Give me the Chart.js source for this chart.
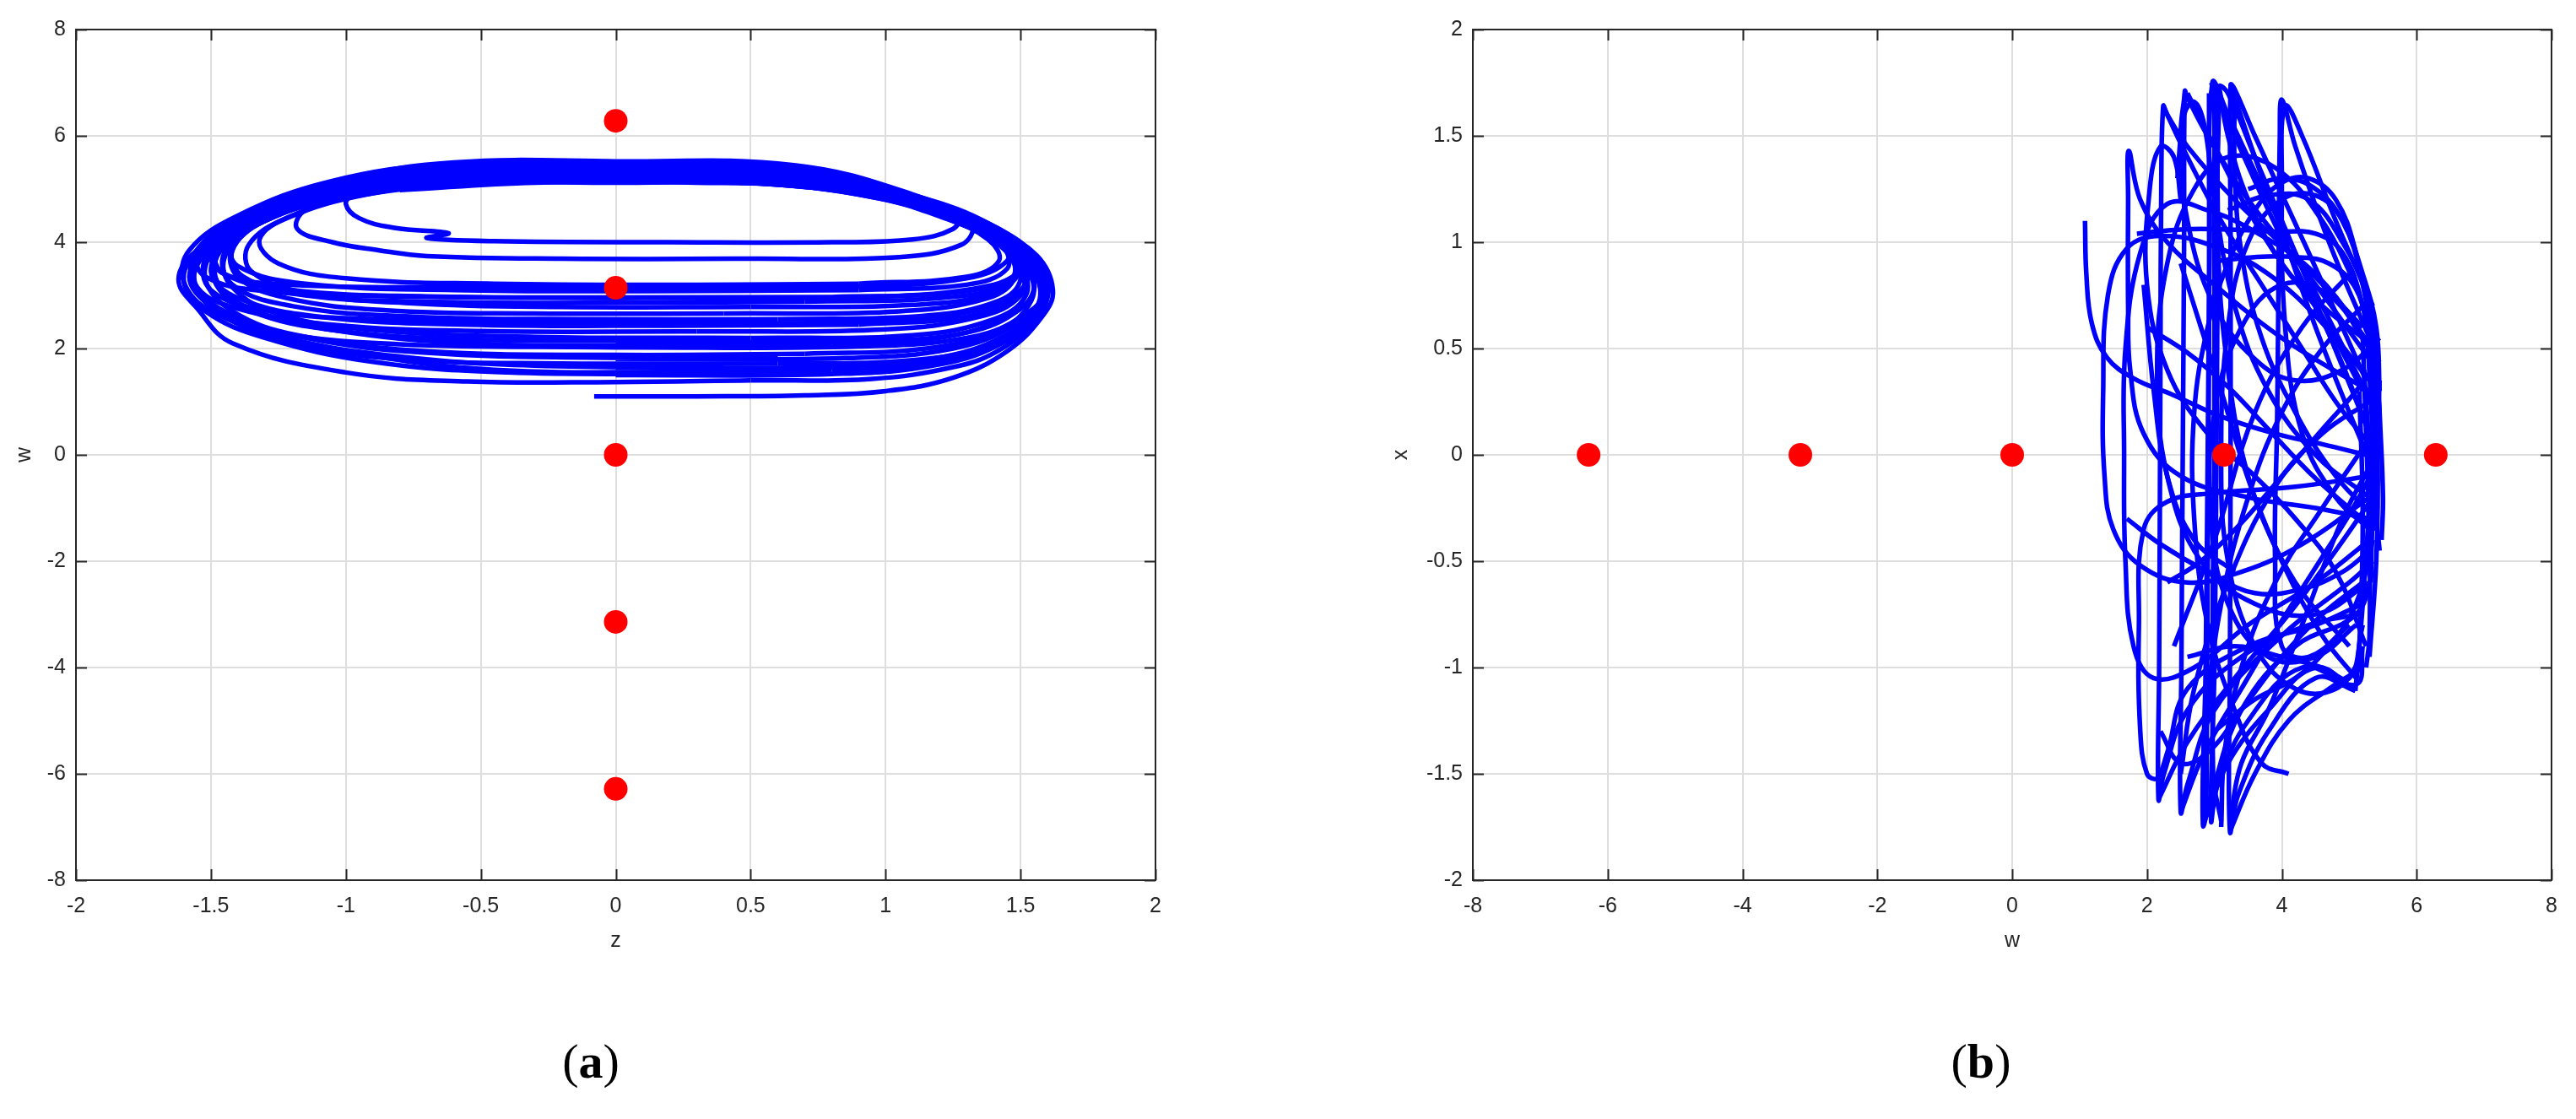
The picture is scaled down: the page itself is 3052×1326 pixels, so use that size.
<!DOCTYPE html>
<html>
<head>
<meta charset="utf-8">
<script src="https://cdn.jsdelivr.net/npm/chart.js"></script>
<style>
  html, body { margin: 0; padding: 0; background: #fff; }
  body { width: 3052px; height: 1326px; position: relative; overflow: hidden; }
  canvas { position: absolute; top: 0; }
  #chartA { left: 0; }
  #chartB { left: 1600px; }
  .cap { position: absolute; top: 1224px; font-family: "Liberation Serif", "DejaVu Serif", serif; font-size: 58px; color: #000; transform: translateX(-50%); }
</style>
</head>
<body>
<canvas id="chartA" width="1420" height="1160"></canvas>
<canvas id="chartB" width="1452" height="1160"></canvas>
<div class="cap" style="left:700px">(<b>a</b>)</div>
<div class="cap" style="left:2347px">(<b>b</b>)</div>
<script>
  // ---- panel (a): z on x axis, w on y axis ----
  const zTicks = [-2, -1.5, -1, -0.5, 0, 0.5, 1, 1.5, 2];
  const wTicksA = [-8, -6, -4, -2, 0, 2, 4, 6, 8];
  const eqZ = [0, 0, 0, 0, 0];
  const eqW = [6.283, 3.142, 0, -3.142, -6.283];

  // trajectory loops, each a list of [z, w]
  const bandLoops = [
    [[-0.08,1.1],[0.3,1.1],[0.7,1.12],[1.0,1.2],[1.25,1.45],[1.45,1.95],[1.58,2.6],[1.62,3.1],[1.56,3.75],[1.4,4.25],[1.12,4.85],[0.65,5.3],[0,5.45],[-0.6,5.45],[-1.0,5.15],[-1.33,4.45],[-1.55,3.85],[-1.62,3.3],[-1.55,2.75],[-1.42,2.1],[-1.0,1.55],[-0.55,1.38],[0,1.37],[0.5,1.4]],
    [[0.5,1.4],[0.95,1.43],[1.25,1.65],[1.41,1.94],[1.55,2.5],[1.6,3.05],[1.55,3.7],[1.4,4.2],[1.1,4.9],[0.66,5.45],[0,5.52],[-0.6,5.5],[-1.0,5.17],[-1.3,4.55],[-1.5,3.9],[-1.58,3.35],[-1.5,2.8],[-1.3,2.3],[-0.95,1.9],[-0.45,1.6],[0.2,1.56],[0.8,1.58]],
    [[0.8,1.58],[1.2,1.75],[1.45,2.2],[1.57,2.8],[1.58,3.3],[1.5,3.85],[1.3,4.4],[1.0,4.95],[0.6,5.35],[0,5.42],[-0.6,5.42],[-1.02,5.1],[-1.35,4.45],[-1.52,3.8],[-1.56,3.2],[-1.45,2.6],[-1.2,2.1],[-0.8,1.8],[-0.2,1.72],[0.6,1.72]],
    [[0.6,1.72],[1.1,1.78],[1.4,2.1],[1.55,2.7],[1.57,3.2],[1.5,3.8],[1.32,4.35],[1.05,4.9],[0.62,5.3],[0,5.38],[-0.6,5.36],[-1.0,5.05],[-1.3,4.5],[-1.48,3.9],[-1.52,3.3],[-1.42,2.7],[-1.18,2.25],[-0.7,1.95],[0,1.88],[0.7,1.9]],
    [[0.7,1.9],[1.15,2.0],[1.42,2.35],[1.54,2.9],[1.53,3.45],[1.42,4.0],[1.2,4.55],[0.88,5.0],[0.45,5.25],[0,5.3],[-0.6,5.3],[-1.02,5.0],[-1.32,4.4],[-1.47,3.8],[-1.47,3.2],[-1.33,2.7],[-1.05,2.35],[-0.55,2.1],[0.1,2.05],[0.8,2.07]],
    [[0.8,2.07],[1.2,2.2],[1.45,2.6],[1.55,3.1],[1.5,3.7],[1.34,4.25],[1.08,4.8],[0.65,5.2],[0,5.28],[-0.62,5.25],[-1.05,4.9],[-1.35,4.3],[-1.45,3.7],[-1.42,3.15],[-1.25,2.65],[-0.9,2.35],[-0.3,2.22],[0.5,2.2]],
    [[0.5,2.2],[1.1,2.25],[1.4,2.55],[1.52,3.0],[1.5,3.55],[1.38,4.1],[1.15,4.62],[0.78,5.1],[0.35,5.35],[0,5.4],[-0.6,5.38],[-1.05,5.05],[-1.38,4.4],[-1.55,3.75],[-1.55,3.15],[-1.4,2.75],[-1.05,2.45],[-0.5,2.33],[0.3,2.32]],
    [[0.3,2.32],[1.0,2.36],[1.35,2.6],[1.5,3.0],[1.5,3.5],[1.4,4.05],[1.18,4.6],[0.8,5.05],[0.3,5.3],[-0.3,5.32],[-0.8,5.15],[-1.18,4.7],[-1.42,4.05],[-1.5,3.45],[-1.4,2.95],[-1.1,2.6],[-0.55,2.45],[0.2,2.43],[0.9,2.45]],
    [[0.9,2.45],[1.3,2.6],[1.5,3.0],[1.52,3.5],[1.42,4.05],[1.2,4.55],[0.85,5.0],[0.4,5.2],[0,5.22],[-0.5,5.2],[-0.95,4.95],[-1.3,4.4],[-1.45,3.8],[-1.42,3.2],[-1.2,2.8],[-0.75,2.6],[-0.1,2.55],[0.6,2.55]],
    [[0.6,2.55],[1.15,2.62],[1.42,2.9],[1.5,3.3],[1.46,3.8],[1.3,4.3],[1.05,4.75],[0.62,5.12],[0,5.2],[-0.55,5.18],[-0.95,4.95],[-1.28,4.45],[-1.42,3.9],[-1.4,3.35],[-1.22,2.95],[-0.85,2.72],[-0.3,2.66],[0.4,2.66]],
    [[0.4,2.66],[1.05,2.7],[1.38,2.95],[1.48,3.35],[1.45,3.85],[1.3,4.35],[1.05,4.8],[0.6,5.1],[0,5.15],[-0.55,5.12],[-0.92,4.9],[-1.22,4.45],[-1.36,3.95],[-1.35,3.45],[-1.15,3.05],[-0.75,2.85],[-0.2,2.78],[0.5,2.78]],
    [[0.5,2.78],[1.1,2.82],[1.4,3.05],[1.48,3.45],[1.42,3.95],[1.25,4.4],[0.98,4.82],[0.55,5.1],[0,5.12],[-0.6,5.1],[-1.0,4.85],[-1.3,4.4],[-1.42,3.85],[-1.38,3.35],[-1.15,3.0],[-0.7,2.88],[-0.1,2.86],[0.7,2.88]],
    [[0.7,2.88],[1.2,2.95],[1.45,3.2],[1.5,3.6],[1.42,4.05],[1.25,4.5],[0.95,4.9],[0.5,5.15],[0,5.2],[-0.55,5.2],[-0.98,4.98],[-1.32,4.45],[-1.48,3.85],[-1.45,3.4],[-1.2,3.1],[-0.7,2.98],[0,2.96],[0.8,2.97]],
    [[0.8,2.97],[1.25,3.05],[1.47,3.35],[1.47,3.8],[1.35,4.25],[1.1,4.7],[0.7,5.05],[0.2,5.18],[-0.4,5.2],[-0.9,5.0],[-1.25,4.55],[-1.42,4.0],[-1.4,3.55],[-1.15,3.22],[-0.6,3.1],[0.1,3.08],[0.9,3.1]],
    [[0.9,3.1],[1.3,3.2],[1.45,3.5],[1.43,3.95],[1.28,4.4],[1.0,4.82],[0.55,5.1],[0,5.15],[-0.5,5.15],[-0.9,4.95],[-1.2,4.5],[-1.32,4.05],[-1.25,3.6],[-1.0,3.32],[-0.45,3.22],[0.3,3.2],[0.9,3.22]],
    [[0,1.5],[0.8,1.52],[1.2,1.7],[1.45,2.15],[1.58,2.75],[1.6,3.25],[1.52,3.85],[1.35,4.35],[1.08,4.9],[0.65,5.38],[0,5.47],[-0.62,5.45],[-1.02,5.12],[-1.35,4.5],[-1.55,3.85],[-1.6,3.25],[-1.52,2.7],[-1.3,2.2],[-0.9,1.75],[-0.4,1.55],[0.3,1.52]],
    [[0,1.64],[0.8,1.66],[1.22,1.85],[1.46,2.3],[1.57,2.85],[1.56,3.4],[1.45,3.95],[1.25,4.5],[0.95,4.95],[0.5,5.28],[0,5.33],[-0.6,5.32],[-1.0,5.05],[-1.32,4.5],[-1.52,3.85],[-1.56,3.25],[-1.47,2.7],[-1.22,2.2],[-0.8,1.85],[-0.3,1.68],[0.4,1.65]],
    [[0,1.8],[0.85,1.82],[1.25,2.0],[1.48,2.45],[1.58,3.0],[1.55,3.6],[1.4,4.15],[1.15,4.7],[0.7,5.25],[0,5.44],[-0.62,5.42],[-1.05,5.1],[-1.38,4.5],[-1.56,3.8],[-1.56,3.2],[-1.43,2.65],[-1.15,2.2],[-0.7,1.92],[-0.1,1.83],[0.6,1.83]],
    [[0,2.12],[0.9,2.14],[1.3,2.3],[1.5,2.75],[1.55,3.25],[1.48,3.85],[1.3,4.4],[1.02,4.85],[0.6,5.18],[0,5.25],[-0.6,5.23],[-1.0,4.95],[-1.3,4.4],[-1.47,3.8],[-1.48,3.2],[-1.35,2.7],[-1.05,2.35],[-0.55,2.17],[0.2,2.14]],
    [[0,2.48],[0.9,2.5],[1.32,2.7],[1.5,3.1],[1.52,3.6],[1.42,4.15],[1.2,4.65],[0.82,5.1],[0.35,5.32],[0,5.35],[-0.6,5.33],[-1.05,5.0],[-1.38,4.35],[-1.52,3.7],[-1.5,3.1],[-1.3,2.72],[-0.9,2.55],[-0.3,2.5],[0.5,2.5]],
    [[0,3.15],[0.9,3.17],[1.3,3.32],[1.45,3.65],[1.44,4.05],[1.3,4.5],[1.05,4.9],[0.62,5.3],[0,5.4],[-0.6,5.38],[-1.03,5.08],[-1.36,4.45],[-1.5,3.85],[-1.45,3.4],[-1.2,3.2],[-0.6,3.15],[0.2,3.14]],
    [[0,2.95],[0.9,2.97],[1.32,3.12],[1.5,3.45],[1.5,3.9],[1.36,4.4],[1.1,4.85],[0.68,5.25],[0,5.36],[-0.65,5.34],[-1.08,5.02],[-1.4,4.4],[-1.55,3.8],[-1.52,3.35],[-1.3,3.08],[-0.8,2.98],[0,2.95]],
    [[0,2.02],[0.9,2.04],[1.32,2.22],[1.52,2.65],[1.6,3.15],[1.56,3.7],[1.42,4.25],[1.16,4.8],[0.72,5.28],[0,5.48],[-0.64,5.46],[-1.06,5.14],[-1.4,4.5],[-1.58,3.85],[-1.6,3.25],[-1.5,2.7],[-1.25,2.3],[-0.8,2.08],[0,2.02]]
  ];
  const hookLoops = [
    [[0.9,3.22],[1.3,3.35],[1.42,3.65],[1.38,4.05],[1.22,4.45],[0.95,4.85],[0.5,5.12],[0,5.15],[-0.5,5.12],[-0.9,4.92],[-1.15,4.6],[-1.18,4.25],[-1.05,4.0],[-0.88,3.85],[-0.7,3.74],[-0.2,3.69],[0.5,3.69],[1.05,3.72],[1.28,3.95],[1.32,4.3],[1.2,4.65],[0.9,5.0],[0.45,5.2],[0,5.25],[-0.55,5.22],[-0.97,4.95]],
    [[-0.97,4.95],[-1.0,4.72],[-0.95,4.45],[-0.82,4.27],[-0.62,4.17],[-0.7,4.08],[-0.45,4.02],[0.2,4.0],[0.8,4.0],[1.1,4.05],[1.25,4.25],[1.27,4.5],[1.12,4.8],[0.75,5.05],[0.3,5.12],[-0.3,5.12],[-0.8,4.98]]
  ];

  // ---- panel (b): w on x axis, x on y axis ----
  const wTicksB = [-8, -6, -4, -2, 0, 2, 4, 6, 8];
  const xTicks = [-2, -1.5, -1, -0.5, 0, 0.5, 1, 1.5, 2];
  const eqWb = [-6.283, -3.142, 0, 3.142, 6.283];
  const eqX = [0, 0, 0, 0, 0];

  // each a list of [w, x]
  const bLoops = [
    [[1.08,1.1],[1.1,0.85],[1.18,0.62],[1.4,0.46],[1.8,0.36],[2.4,0.28],[3.1,0.18],[3.9,0.1],[4.6,0.05],[5.25,0.0]],
    [[5.3,0.35],[4.6,0.62],[3.8,0.85],[3.0,0.98],[2.2,1.03],[1.7,0.97],[1.42,0.75],[1.35,0.3],[1.37,-0.1],[1.5,-0.35],[1.9,-0.52],[2.6,-0.6],[3.4,-0.55],[4.3,-0.42],[5.3,-0.2]],
    [[5.35,0.5],[4.5,0.85],[3.6,1.05],[2.9,1.15],[2.3,1.18],[1.9,0.95],[1.68,0.5],[1.66,0],[1.68,-0.5],[1.8,-0.9],[2.1,-1.05],[2.7,-1.0],[3.5,-0.8],[4.5,-0.6],[5.3,-0.4]],
    [[5.3,-0.1],[4.2,-0.15],[3.0,-0.18],[2.3,-0.22],[1.95,-0.35],[1.88,-0.8],[1.9,-1.3],[2.0,-1.5],[2.15,-1.52],[2.3,-1.4],[2.6,-1.1],[3.5,-0.9],[4.5,-0.8],[5.2,-0.7]],
    [[5.3,-0.6],[4.5,-0.75],[3.6,-0.7],[2.8,-0.5],[2.3,-0.1],[2.15,0.4],[2.3,0.9],[2.7,1.25],[3.2,1.4],[3.9,1.35],[4.6,1.1],[5.1,0.8]],
    [[5.3,0.5],[4.7,0.75],[4.0,0.8],[3.4,0.6],[3.0,0.2],[2.95,-0.3],[3.2,-0.7],[3.8,-0.95],[4.5,-0.95],[5.1,-0.8]]
  ];
  const bSpikes = [
    [[5.3,0.3],[4.0,0.55],[3.0,0.8],[2.3,1.0],[1.9,1.2],[1.73,1.43],[1.72,1.2],[1.72,0.7],[1.75,0.4],[1.95,0.1],[2.5,-0.1],[3.5,-0.2],[4.5,-0.25],[5.3,-0.3]],
    [[5.2,0.6],[4.3,0.9],[3.3,1.2],[2.6,1.45],[2.3,1.6],[2.24,1.64],[2.21,1.2],[2.2,0.5],[2.19,-0.3],[2.18,-1.0],[2.17,-1.62],[2.25,-1.5],[2.6,-1.2],[3.4,-0.95],[4.4,-0.8],[5.15,-0.75]],
    [[5.3,0.45],[4.5,0.8],[3.5,1.2],[2.9,1.5],[2.6,1.68],[2.56,1.71],[2.55,1.0],[2.53,0],[2.51,-1.0],[2.5,-1.68],[2.6,-1.55],[3.0,-1.2],[4.0,-0.85],[5.0,-0.6],[5.35,-0.5]],
    [[5.4,0.2],[4.6,0.7],[3.8,1.2],[3.2,1.6],[2.97,1.75],[2.93,1.0],[2.9,0],[2.87,-1.0],[2.83,-1.74],[2.95,-1.6],[3.4,-1.2],[4.2,-0.9],[5.1,-0.75],[5.35,-0.55]],
    [[5.3,0.1],[4.4,0.8],[3.6,1.4],[3.2,1.7],[3.07,1.73],[3.05,1.0],[3.03,0],[3.0,-1.0],[2.95,-1.72],[3.05,-1.55],[3.5,-1.25],[4.3,-1.0],[5.1,-1.08],[5.2,-0.9]],
    [[5.25,0.35],[4.4,0.95],[3.6,1.5],[3.3,1.72],[3.24,1.74],[3.24,1.0],[3.24,0],[3.23,-1.0],[3.23,-1.77],[3.35,-1.6],[3.8,-1.3],[4.5,-1.05],[5.09,-1.11]],
    [[5.3,0.55],[4.7,1.0],[4.2,1.45],[4.0,1.67],[3.97,1.5],[3.95,0.8],[3.93,0.16],[3.9,-0.5],[4.0,-0.9],[4.4,-0.95],[5.0,-0.8]],
    [[5.35,0.7],[4.8,1.1],[4.3,1.5],[4.05,1.64],[4.0,1.3],[4.05,0.6],[4.3,0.1],[4.8,-0.2],[5.3,-0.35]],
    [[2.92,1.7],[2.92,0.5],[2.9,-0.5],[2.88,-1.7]],
    [[3.0,1.72],[3.0,0.2],[2.98,-1.5],[3.1,-1.72]],
    [[2.45,1.3],[2.55,1.6],[2.7,1.66],[2.85,1.55],[3.0,1.2],[3.3,0.7],[3.8,0.3],[4.5,0.0],[5.3,-0.2]],
    [[5.25,-0.9],[4.8,-0.55],[4.2,-0.3],[3.6,-0.1],[2.9,0.1],[2.3,0.4],[2.0,0.8],[2.04,1.25],[2.2,1.45],[2.4,1.4],[2.5,1.2]],
    [[5.1,-1.05],[4.6,-0.85],[4.0,-0.5],[3.5,-0.1],[3.2,0.4],[3.05,1.0],[3.07,1.73]]
  ];
  const bArcs = [
    [[5.45,0.2],[5.35,0.55],[5.1,0.95],[4.8,1.2],[4.4,1.3],[4.0,1.28],[3.6,1.15],[3.2,0.9],[2.9,0.6],[2.7,0.2],[2.7,-0.3],[2.9,-0.8],[3.3,-1.2],[3.7,-1.45],[4.1,-1.5]],
    [[5.4,0.4],[5.2,0.8],[4.9,1.1],[4.5,1.22],[4.0,1.2],[3.5,1.0],[3.2,0.6],[3.1,0.0],[3.2,-0.5],[3.6,-0.9],[4.2,-1.1],[4.8,-1.1],[5.2,-0.95]],
    [[1.85,1.04],[2.5,1.06],[3.2,1.06],[3.9,1.05],[4.5,1.04],[4.9,0.95],[5.2,0.7],[5.35,0.4],[5.4,0.0]],
    [[3.0,0.91],[3.6,0.93],[4.2,0.93],[4.7,0.9],[5.1,0.78],[5.3,0.55]],
    [[2.6,1.7],[3.0,1.45],[3.5,1.15],[4.0,0.9],[4.6,0.65],[5.2,0.3]],
    [[2.95,1.75],[3.3,1.5],[3.8,1.15],[4.3,0.82],[4.8,0.5],[5.3,0.1]],
    [[3.24,1.74],[3.6,1.4],[4.0,1.05],[4.5,0.6],[5.0,0.2],[5.4,-0.1]],
    [[2.24,1.64],[2.6,1.4],[3.1,1.1],[3.7,0.8],[4.3,0.5],[4.8,0.25],[5.3,0.05]],
    [[2.5,-1.68],[2.85,-1.4],[3.4,-1.1],[4.0,-0.78],[4.6,-0.48],[5.0,-0.28],[5.4,-0.05]],
    [[2.83,-1.74],[3.2,-1.45],[3.8,-1.2],[4.5,-1.0],[5.09,-1.11]],
    [[3.23,-1.77],[3.6,-1.5],[4.1,-1.25],[4.7,-1.1],[5.2,-1.0]],
    [[2.17,-1.62],[2.6,-1.35],[3.3,-1.05],[4.1,-0.75],[4.8,-0.45],[5.35,-0.2]],
    [[2.0,0.6],[2.6,0.48],[3.2,0.32],[3.8,0.12],[4.4,-0.08],[5.0,-0.25],[5.4,-0.35]],
    [[2.3,-0.6],[2.8,-0.5],[3.4,-0.32],[4.0,-0.1],[4.6,0.12],[5.1,0.3],[5.45,0.45]],
    [[1.7,-0.3],[2.2,-0.42],[2.9,-0.55],[3.6,-0.65],[4.3,-0.63],[4.9,-0.55],[5.3,-0.45]],
    [[5.2,0.55],[5.25,0.1],[5.3,-0.4],[5.3,-0.85],[5.25,-1.0]],
    [[5.4,0.58],[5.45,0.2],[5.5,-0.2],[5.48,-0.4]],
    [[5.15,0.3],[5.2,-0.3],[5.15,-0.9],[5.09,-1.11]],
    [[5.35,0.45],[5.42,0.0],[5.4,-0.5],[5.3,-0.95]],
    [[5.28,0.5],[5.35,0.0],[5.32,-0.6]],
    [[5.45,0.35],[5.38,-0.2],[5.45,-0.45]],
    [[5.22,0.4],[5.3,-0.1],[5.2,-0.7],[5.1,-1.05]],
    [[3.5,1.25],[4.0,1.3],[4.5,1.25],[4.9,1.1],[5.2,0.85],[5.4,0.6],[5.45,0.3]],
    [[3.2,1.15],[3.8,1.22],[4.4,1.2],[4.9,1.0],[5.25,0.75],[5.42,0.4]],
    [[3.0,-1.3],[3.6,-1.15],[4.2,-1.05],[4.7,-0.9],[5.1,-0.7],[5.35,-0.4]],
    [[2.6,-0.95],[3.3,-0.9],[4.0,-0.95],[4.6,-1.0],[5.0,-1.05],[5.2,-0.8]],
    [[2.5,0.9],[2.8,0.6],[3.1,0.3],[3.6,-0.2],[4.2,-0.6],[5.0,-0.9]],
    [[2.4,-0.9],[3.0,-0.4],[3.6,0.2],[4.3,0.6],[5.0,0.85]],
    [[1.95,0.8],[2.1,0.3],[2.3,-0.1],[2.7,-0.4],[3.3,-0.55]],
    [[5.4,-0.3],[4.8,-0.1],[4.2,0.2],[3.7,0.55],[3.4,0.95],[3.3,1.35],[3.3,1.7]],
    [[5.35,0.1],[4.6,-0.25],[3.9,-0.6],[3.4,-1.0],[3.15,-1.4],[3.1,-1.75]],
    [[5.2,0.7],[4.6,0.5],[4.0,0.2],[3.5,-0.2],[3.1,-0.7],[2.9,-1.2],[2.85,-1.7]],
    [[5.45,0.55],[4.9,0.4],[4.2,0.35],[3.6,0.45],[3.0,0.7],[2.6,1.1],[2.5,1.5],[2.56,1.7]],
    [[2.2,-1.3],[2.5,-1.45],[2.9,-1.4],[3.4,-1.2],[4.0,-0.95],[4.6,-0.75],[5.2,-0.6]],
    [[5.3,0.25],[4.6,0.1],[3.9,-0.15],[3.2,-0.6],[2.7,-1.1],[2.5,-1.5]],
    [[5.4,0.0],[4.9,-0.3],[4.3,-0.8],[3.8,-1.2],[3.4,-1.45],[3.24,-1.7]],
    [[3.07,1.73],[3.2,1.5],[3.5,1.2],[4.0,0.9],[4.6,0.7],[5.2,0.55]]
  ];

  const INK = '#262626';
  const GRID = '#dedede';
  Chart.defaults.font.family = '"Liberation Sans", Arial, sans-serif';
  Chart.defaults.font.size = 25;
  Chart.defaults.color = INK;

  // MATLAB style box with inward tick marks on all four sides
  const boxPlugin = {
    id: 'box',
    afterDatasetsDraw(chart) {
      const { ctx, chartArea: a, scales: { x, y } } = chart;
      ctx.save();
      ctx.strokeStyle = INK;
      ctx.lineWidth = 2;
      ctx.beginPath();
      x.ticks.forEach(t => {
        const px = Math.round(x.getPixelForValue(t.value)) + 0.5;
        ctx.moveTo(px, a.bottom); ctx.lineTo(px, a.bottom - 13);
        ctx.moveTo(px, a.top); ctx.lineTo(px, a.top + 13);
      });
      y.ticks.forEach(t => {
        const py = Math.round(y.getPixelForValue(t.value)) + 0.5;
        ctx.moveTo(a.left, py); ctx.lineTo(a.left + 13, py);
        ctx.moveTo(a.right, py); ctx.lineTo(a.right - 13, py);
      });
      ctx.stroke();
      ctx.strokeRect(a.left, a.top, a.right - a.left, a.bottom - a.top);
      ctx.restore();
    }
  };

  const fmt = v => String(+Number(v).toFixed(2));

  function pathSets(paths) {
    return paths.map(p => ({
      data: p.map(([a, b]) => ({ x: a, y: b })),
      showLine: true,
      borderColor: '#0000ff',
      borderWidth: 5.5,
      pointRadius: 0,
      tension: 0.4,
      fill: false
    }));
  }

  function dotSet(xs, ys) {
    return {
      data: xs.map((v, i) => ({ x: v, y: ys[i] })),
      showLine: false,
      pointRadius: 14,
      pointBackgroundColor: '#ff0000',
      pointBorderWidth: 0
    };
  }

  function makeChart(id, cfg) {
    return new Chart(document.getElementById(id), {
      type: 'scatter',
      data: { datasets: [dotSet(cfg.dotX, cfg.dotY)].concat(pathSets(cfg.paths)) },
      options: {
        responsive: false,
        animation: false,
        devicePixelRatio: 1,
        events: [],
        layout: { padding: { top: 35, right: cfg.padRight, left: 0, bottom: 0 } },
        plugins: { legend: { display: false }, tooltip: { enabled: false } },
        scales: {
          x: {
            type: 'linear', position: 'bottom',
            min: cfg.xTicks[0], max: cfg.xTicks[cfg.xTicks.length - 1],
            afterBuildTicks: s => { s.ticks = cfg.xTicks.map(v => ({ value: v })); },
            afterFit: s => { s.height = 117; },
            grid: { color: GRID, lineWidth: 2, drawTicks: false },
            border: { display: false },
            ticks: { padding: 16, autoSkip: false, maxRotation: 0, callback: fmt, color: INK },
            title: { display: true, text: cfg.xTitle, color: INK, padding: { top: 0, bottom: 30 } }
          },
          y: {
            type: 'linear', position: 'left',
            min: cfg.yTicks[0], max: cfg.yTicks[cfg.yTicks.length - 1],
            afterBuildTicks: s => { s.ticks = cfg.yTicks.map(v => ({ value: v })); },
            afterFit: s => { s.width = cfg.yWidth; },
            grid: { color: GRID, lineWidth: 2, drawTicks: false },
            border: { display: false },
            ticks: { padding: 12, autoSkip: false, callback: fmt, color: INK },
            title: { display: true, text: cfg.yTitle, color: INK, padding: { top: cfg.yTitlePad, bottom: 0 } }
          }
        }
      },
      plugins: [boxPlugin]
    });
  }

  makeChart('chartA', {
    xTicks: zTicks, yTicks: wTicksA, xTitle: 'z', yTitle: 'w',
    dotX: eqZ, dotY: eqW, paths: bandLoops.concat(hookLoops),
    padRight: 51, yWidth: 90, yTitlePad: 14
  });

  makeChart('chartB', {
    xTicks: wTicksB, yTicks: xTicks, xTitle: 'w', yTitle: 'x',
    dotX: eqWb, dotY: eqX, paths: bLoops.concat(bSpikes, bArcs),
    padRight: 29, yWidth: 145, yTitlePad: 45
  });
</script>
</body>
</html>
